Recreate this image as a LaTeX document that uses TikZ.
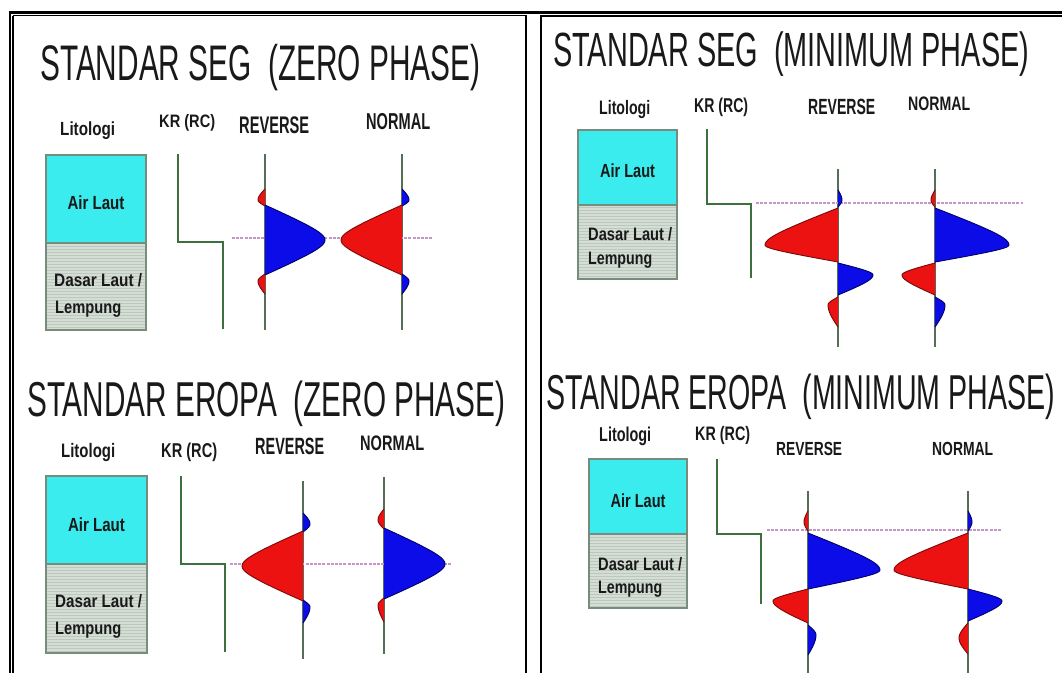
\documentclass[tikz,border=0pt]{standalone}
\usepackage{fontspec}
\setmainfont{Liberation Sans}
\usepackage{graphicx}
\usetikzlibrary{patterns}
\definecolor{wR}{RGB}{236,18,18}
\definecolor{wRe}{RGB}{120,10,10}
\definecolor{wB}{RGB}{12,12,232}
\definecolor{wBe}{RGB}{0,0,105}
\definecolor{cyanbox}{RGB}{58,236,238}
\definecolor{claybox}{RGB}{212,222,213}
\definecolor{claytex}{RGB}{188,200,190}
\definecolor{boxedge}{RGB}{120,140,125}
\definecolor{krgreen}{RGB}{62,112,62}
\definecolor{axisgreen}{RGB}{85,110,85}
\definecolor{dashpink}{RGB}{196,150,200}
\definecolor{ink}{RGB}{25,25,25}
\newcommand\tx[3]{\resizebox{#1pt}{\height}{\fontsize{#2}{#2}\selectfont #3}}
\newcommand\txb[3]{\resizebox{#1pt}{\height}{\fontsize{#2}{#2}\selectfont\bfseries #3}}
% lobe: #1 axis x, #2 y0, #3 y peak, #4 y1, #5 amplitude (signed), #6 R or B, #7 tip roundness
\newcommand\wlobe[7]{%
  \fill[w#6] (#1,#2) -- plot[domain=-1:0,samples=24,variable=\u]
      ({#1+(#5)*(sqrt(1+#7*#7)-sqrt((\u)*(\u)+#7*#7))/(sqrt(1+#7*#7)-#7)},{#3+(\u)*(#3-#2)})
    -- plot[domain=0:1,samples=24,variable=\u]
      ({#1+(#5)*(sqrt(1+#7*#7)-sqrt((\u)*(\u)+#7*#7))/(sqrt(1+#7*#7)-#7)},{#3+(\u)*(#4-#3)}) -- cycle;
  \draw[w#6e,line width=0.9pt] plot[domain=-1:0,samples=24,variable=\u]
      ({#1+(#5)*(sqrt(1+#7*#7)-sqrt((\u)*(\u)+#7*#7))/(sqrt(1+#7*#7)-#7)},{#3+(\u)*(#3-#2)})
    -- plot[domain=0:1,samples=24,variable=\u]
      ({#1+(#5)*(sqrt(1+#7*#7)-sqrt((\u)*(\u)+#7*#7))/(sqrt(1+#7*#7)-#7)},{#3+(\u)*(#4-#3)});
}
\tikzset{
  lbl/.style={anchor=base west,inner sep=0pt,text=ink},
  ctr/.style={anchor=base,inner sep=0pt,text=ink},
  kr/.style={draw=krgreen,line width=1.8pt},
  ax/.style={draw=axisgreen,line width=1.3pt},
  ref/.style={draw=dashpink,line width=1.1pt,dash pattern=on 3pt off 1.2pt},
  frame/.style={draw=black,line width=1.1pt},
  water/.style={fill=cyanbox,draw=boxedge,line width=1.2pt},
  clay/.style={fill=claybox,draw=boxedge,line width=1.2pt},
  claytx/.style={pattern=horizontal lines,pattern color=claytex},
}
\begin{document}
\begin{tikzpicture}[x=1pt,y=-1pt]
\useasboundingbox (0,0) rectangle (1062,673);
\fill[white] (0,0) rectangle (1062,673);
% frame
\draw[black,line width=2.4pt] (8.5,12.5) -- (1062,12.5);
\draw[black,line width=2pt] (9.5,12) -- (9.5,673);
\draw[frame] (13,15.5) -- (13,673);
\draw[frame] (13,15.5) -- (526,15.5) -- (526,673);
\draw[frame] (541,673) -- (541,16) -- (1062,16);

% ===== TOP LEFT: SEG zero phase =====
\node[lbl] (t1) at (40,80) {\tx{440}{50}{STANDAR SEG\ \ (ZERO PHASE)}};
\node[lbl] (l1) at (60,135) {\txb{55}{19}{Litologi}};
\node[lbl] (k1) at (159,127) {\txb{56}{18}{KR (RC)}};
\node[lbl] (r1) at (239,133) {\txb{70}{24}{REVERSE}};
\node[lbl] (n1) at (366,129) {\txb{64}{23}{NORMAL}};
\path[water] (46,155) rectangle (146,243);
\path[clay] (46,243) rectangle (146,330);
\path[claytx] (47,244) rectangle (145,329);
\node[ctr] (a1) at (96,209) {\txb{57}{19}{Air Laut}};
\node[lbl] (d1) at (54,286) {\txb{88}{18}{Dasar Laut /}};
\node[lbl] (e1) at (55,313) {\txb{66}{18}{Lempung}};
\draw[kr] (178,154) -- (178,242) -- (223,242) -- (223,329);
\draw[ax] (265,154) -- (265,330);
\draw[ax] (402,154) -- (402,330);
\draw[ref] (232,238) -- (432,238);
\wlobe{265}{189}{200}{206}{-7}{R}{0.6}
\wlobe{265}{205}{240}{275}{60}{B}{0.3}
\wlobe{265}{274}{281}{294}{-7}{R}{0.6}
\wlobe{402}{189}{200}{206}{7}{B}{0.6}
\wlobe{402}{205}{240}{275}{-61}{R}{0.3}
\wlobe{402}{274}{281}{294}{7}{B}{0.6}

% ===== TOP RIGHT: SEG minimum phase =====
\node[lbl] (t2) at (553,66) {\tx{476}{48}{STANDAR SEG\ \ (MINIMUM PHASE)}};
\node[lbl] (l2) at (599,114) {\txb{51}{19.5}{Litologi}};
\node[lbl] (k2) at (694,112) {\txb{54}{20}{KR (RC)}};
\node[lbl] (r2) at (808,114) {\txb{67}{22}{REVERSE}};
\node[lbl] (n2) at (908,110) {\txb{62}{19.5}{NORMAL}};
\path[water] (578,130) rectangle (677,205);
\path[clay] (578,205) rectangle (677,279);
\path[claytx] (579,206) rectangle (676,278);
\node[ctr] (a2) at (627.5,177) {\txb{55}{19}{Air Laut}};
\node[lbl] (d2) at (588,240) {\txb{84}{18}{Dasar Laut /}};
\node[lbl] (e2) at (588,264) {\txb{64}{18}{Lempung}};
\draw[kr] (707,129) -- (707,204) -- (751,204) -- (751,278);
\draw[ax] (838,169) -- (838,347);
\draw[ax] (935,169) -- (935,347);
\draw[ref] (756,203) -- (1023,203);
\wlobe{838}{190}{200}{207}{4}{B}{0.6}
\wlobe{838}{208}{245}{262}{-73}{R}{0.3}
\wlobe{838}{263}{275}{295}{35}{B}{0.4}
\wlobe{838}{297}{305}{327}{-10}{R}{0.6}
\wlobe{935}{190}{200}{207}{-4}{R}{0.6}
\wlobe{935}{208}{245}{262}{74}{B}{0.3}
\wlobe{935}{263}{275}{295}{-33}{R}{0.4}
\wlobe{935}{297}{305}{327}{10}{B}{0.6}

% ===== BOTTOM LEFT: Eropa zero phase =====
\node[lbl] (t3) at (27,416) {\tx{478}{49}{STANDAR EROPA\ \ (ZERO PHASE)}};
\node[lbl] (l3) at (61,457) {\txb{54}{19.5}{Litologi}};
\node[lbl] (k3) at (161,457) {\txb{56}{20}{KR (RC)}};
\node[lbl] (r3) at (255,454) {\txb{69}{23.5}{REVERSE}};
\node[lbl] (n3) at (360,450) {\txb{64}{21}{NORMAL}};
\path[water] (46,476) rectangle (147,564);
\path[clay] (46,564) rectangle (147,653);
\path[claytx] (47,565) rectangle (146,652);
\node[ctr] (a3) at (96.5,531) {\txb{57}{19}{Air Laut}};
\node[lbl] (d3) at (55,607) {\txb{87}{18}{Dasar Laut /}};
\node[lbl] (e3) at (55,634) {\txb{66}{18}{Lempung}};
\draw[kr] (181,476) -- (181,564) -- (225,564) -- (225,652);
\draw[ax] (303,481) -- (303,659);
\draw[ax] (384,477) -- (384,654);
\draw[ref] (230,564) -- (451,564);
\wlobe{303}{513}{524}{532}{7}{B}{0.6}
\wlobe{303}{531}{566}{601}{-61}{R}{0.3}
\wlobe{303}{600}{607}{623}{7}{B}{0.6}
\wlobe{384}{509}{520}{529}{-6}{R}{0.6}
\wlobe{384}{528}{564}{599}{61}{B}{0.3}
\wlobe{384}{598}{605}{622}{-6}{R}{0.6}

% ===== BOTTOM RIGHT: Eropa minimum phase =====
\node[lbl] (t4) at (546,409) {\tx{509}{49}{STANDAR EROPA\ \ (MINIMUM PHASE)}};
\node[lbl] (l4) at (599,441) {\txb{52}{20}{Litologi}};
\node[lbl] (k4) at (695,440) {\txb{55}{19.5}{KR (RC)}};
\node[lbl] (r4) at (776,455) {\txb{66}{19}{REVERSE}};
\node[lbl] (n4) at (932,455) {\txb{61}{19}{NORMAL}};
\path[water] (589,459) rectangle (687,534);
\path[clay] (589,534) rectangle (687,608);
\path[claytx] (590,535) rectangle (686,607);
\node[ctr] (a4) at (638,507) {\txb{55}{19}{Air Laut}};
\node[lbl] (d4) at (598,570) {\txb{84}{18}{Dasar Laut /}};
\node[lbl] (e4) at (598,593) {\txb{64}{18}{Lempung}};
\draw[kr] (717,459) -- (717,534) -- (761,534) -- (761,604);
\draw[ax] (808,491) -- (808,673);
\draw[ax] (968,491) -- (968,673);
\draw[ref] (767,530) -- (1002,530);
\wlobe{808}{511}{522}{531}{-4}{R}{0.6}
\wlobe{808}{533}{570}{589}{72}{B}{0.3}
\wlobe{808}{589}{601}{623}{-35}{R}{0.4}
\wlobe{808}{625}{635}{655}{8}{B}{0.6}
\wlobe{968}{511}{522}{531}{4}{B}{0.6}
\wlobe{968}{533}{570}{589}{-74}{R}{0.3}
\wlobe{968}{589}{601}{621}{34}{B}{0.4}
\wlobe{968}{623}{638}{654}{-9}{R}{0.6}
\end{tikzpicture}
\end{document}
